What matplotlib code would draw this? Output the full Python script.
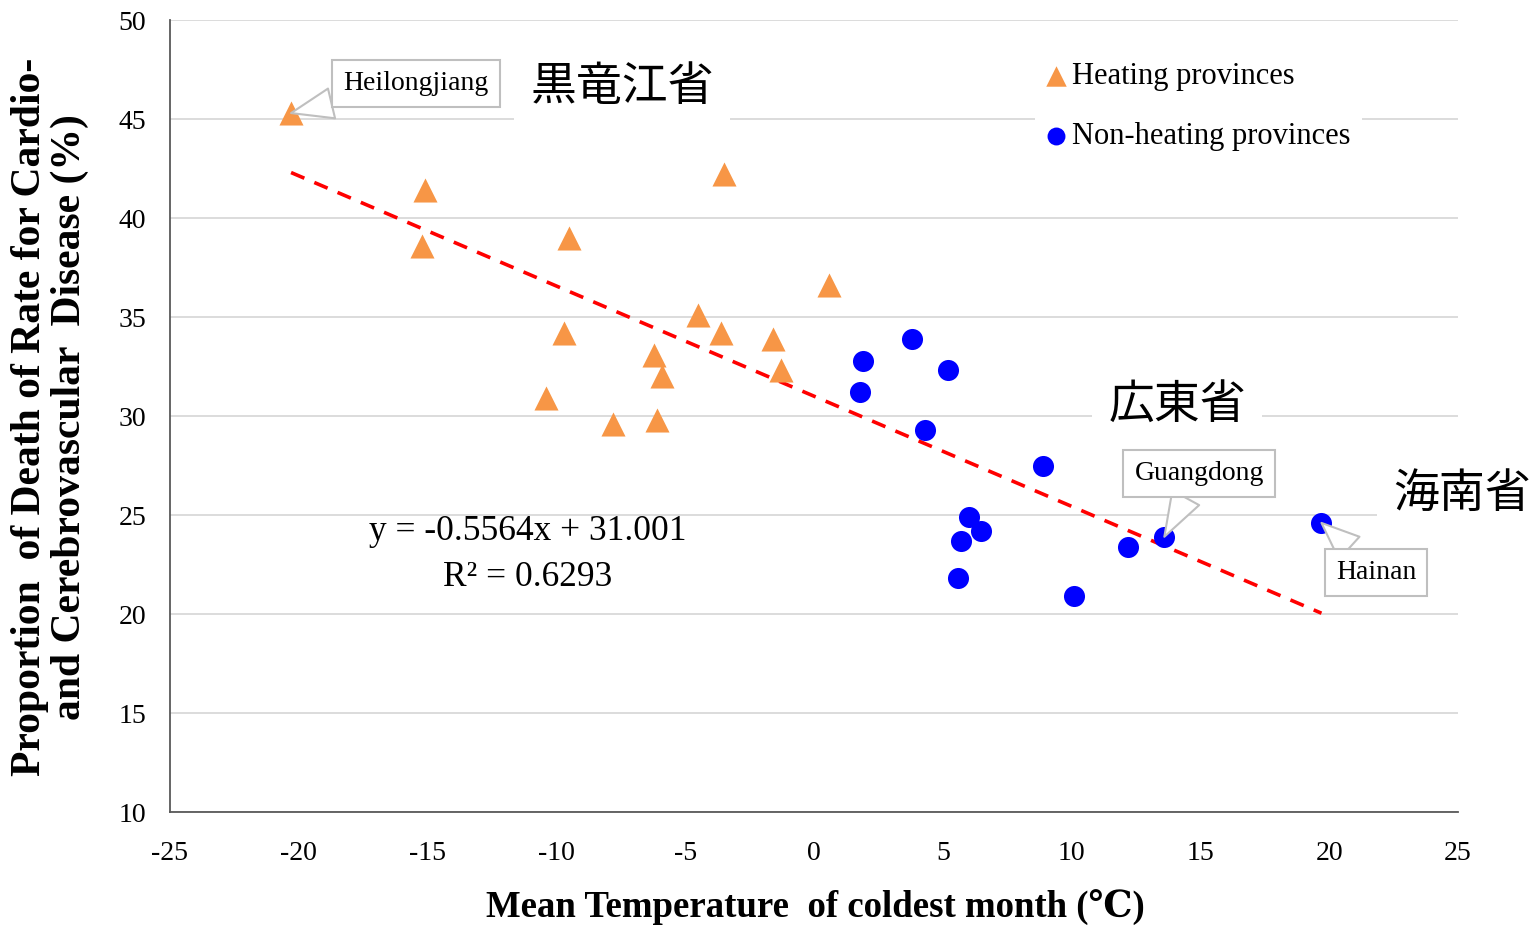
import numpy as np
import matplotlib
matplotlib.use("Agg")
import matplotlib.pyplot as plt

plt.rcParams['font.family'] = ['Liberation Serif', 'DejaVu Serif', 'Noto Sans CJK JP']
plt.rcParams['axes.unicode_minus'] = False

# heating provinces (triangles)
heat_x = [-20.3, -15.1, -15.2, -9.5, -3.5, -9.7, -10.4, -7.8, -6.2, -5.9, -6.1, -4.5, -3.6, -1.6, -1.3, 0.6]
heat_y = [45.3, 41.4, 38.6, 39.0, 42.2, 34.2, 30.9, 29.6, 33.1, 32.0, 29.8, 35.1, 34.2, 33.9, 32.3, 36.6]

# non-heating provinces (circles)
non_x = [1.9, 3.8, 5.2, 1.8, 4.3, 8.9, 6.0, 6.5, 5.7, 5.6, 10.1, 12.2, 13.6, 19.7]
non_y = [32.8, 33.9, 32.3, 31.2, 29.3, 27.5, 24.9, 24.2, 23.7, 21.8, 20.9, 23.4, 23.9, 24.6]

slope = -0.5564
intercept = 31.001
r2 = 0.6293

orange = '#F79646'
blue = '#0000FF'

fig = plt.figure(figsize=(15.4, 9.3), dpi=100)
ax = fig.add_axes([170/1540, 1-812/930, (1458-170)/1540, (812-20)/930])

ax.set_xlim(-25, 25)
ax.set_ylim(10, 50)
ax.set_xticks(np.arange(-25, 26, 5))
ax.set_yticks(np.arange(10, 51, 5))
ax.tick_params(length=0, labelsize=20)
ax.tick_params(axis='x', pad=21)
ax.tick_params(axis='y', pad=17)
ax.grid(axis='y', color='#d9d9d9', lw=1.3)
ax.set_axisbelow(True)
for s in ['top', 'right']:
    ax.spines[s].set_visible(False)
for s in ['left', 'bottom']:
    ax.spines[s].set_color('#595959')
    ax.spines[s].set_linewidth(1.3)

# trend line
all_x = np.array(heat_x + non_x)
xs = np.array([all_x.min(), all_x.max()])
ax.plot(xs, slope*xs + intercept, color='#FF0000', lw=2.6, dashes=(4, 3), zorder=2)

ax.scatter(heat_x, heat_y, marker='^', s=300, color=orange, lw=0, zorder=3, label='Heating provinces')
ax.scatter(non_x, non_y, marker='o', s=230, color=blue, lw=0, zorder=3, label='Non-heating provinces')

leg = ax.legend(loc='upper left', bbox_to_anchor=(1035/1540, 1-50/930),
                bbox_transform=fig.transFigure, fontsize=22, frameon=True,
                framealpha=1, edgecolor='none', fancybox=False, borderaxespad=0,
                borderpad=0.4, handlelength=0.6, handletextpad=0.2, labelspacing=1.0,
                markerscale=0.85)

ax.text(-11.1, 23.0, 'y = -0.5564x + 31.001\nR² = 0.6293', fontsize=25.5,
        ha='center', va='center', multialignment='center', linespacing=1.55, zorder=4)

# callout labels
callout = dict(boxstyle='square,pad=0.4', fc='white', ec='#bfbfbf', lw=1.5)
wedge = dict(arrowstyle='wedge,tail_width=1.1', fc='white', ec='#bfbfbf', lw=1.5, shrinkA=0, shrinkB=0)
ax.annotate('Heilongjiang', xy=(heat_x[0], heat_y[0]), xytext=(-15.45, 46.8),
            fontsize=20, ha='center', va='center', bbox=callout, arrowprops=wedge, zorder=5)
ax.annotate('Guangdong', xy=(non_x[12], non_y[12]), xytext=(14.95, 27.1),
            fontsize=20, ha='center', va='center', bbox=callout, arrowprops=wedge, zorder=5)
ax.annotate('Hainan', xy=(non_x[13], non_y[13]), xytext=(21.82, 22.1),
            fontsize=20, ha='center', va='center', bbox=callout, arrowprops=wedge, zorder=5)

cjk = ['Noto Sans CJK JP', 'DejaVu Sans']
white = dict(boxstyle='square,pad=0.35', fc='white', ec='none')
ax.text(-7.45, 46.65, '黒竜江省', family=cjk, fontsize=33, ha='center', va='center', bbox=white, zorder=4)
ax.text(14.1, 30.55, '広東省', family=cjk, fontsize=33, ha='center', va='center', bbox=white, zorder=4)
ax.text(25.15, 26.1, '海南省', family=cjk, fontsize=33, ha='center', va='center', bbox=white, zorder=4)

fig.text(815/1540, 1-908/930, 'Mean Temperature  of coldest month (℃)', fontsize=26.5,
         fontweight='bold', ha='center', va='center')
fig.text(50/1540, 1-417/930, 'Proportion  of Death of Rate for Cardio-\nand Cerebrovascular  Disease (%)',
         fontsize=30, fontweight='bold', rotation=90, ha='center', va='center',
         multialignment='center', linespacing=1.05)

fig.savefig('out.png', dpi=100)
